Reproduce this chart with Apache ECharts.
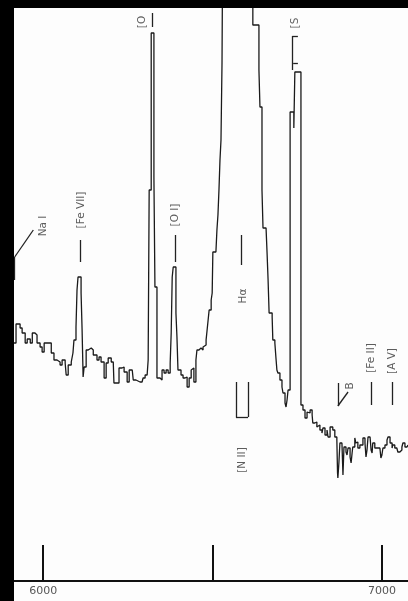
<!DOCTYPE html>
<html><head><meta charset="utf-8">
<script src="https://cdn.jsdelivr.net/npm/echarts@6/dist/echarts.min.js"></script>
<style>html,body{margin:0;padding:0;background:#fff}#c{width:408px;height:601px}</style>
</head><body><div id="c"></div>
<script>
// Wavelength (Å) at the start of each histogram bin and the flux (arbitrary units) held over it
const wavelength = [5914,5920,5932,5938,5947,5953,5962,5968,5976,5982,5991,5997,6003,6015,6024,6032,6041,6050,6056,6065,6068,6074,6083,6088,6091,6097,6100,6103,6112,6115,6118,6121,6127,6133,6142,6148,6159,6165,6171,6180,6186,6192,6201,6207,6209,6218,6224,6233,6239,6248,6254,6263,6266,6274,6286,6292,6295,6301,6307,6310,6313,6319,6327,6330,6336,6345,6351,6357,6363,6369,6375,6378,6381,6384,6392,6395,6398,6407,6413,6419,6425,6431,6437,6442,6445,6451,6454,6460,6466,6472,6475,6481,6484,6487,6490,6496,6499,6501,6510,6513,6516,6519,6522,6525,6528,6531,6619,6637,6640,6646,6649,6658,6661,6664,6667,6676,6678,6684,6687,6690,6693,6699,6705,6708,6714,6717,6720,6723,6729,6740,6743,6761,6767,6773,6779,6782,6788,6794,6796,6802,6808,6811,6817,6823,6826,6832,6838,6841,6847,6855,6861,6867,6869,6870,6873,6876,6882,6885,6888,6894,6897,6900,6906,6909,6912,6914,6920,6923,6926,6929,6935,6944,6950,6953,6956,6959,6965,6968,6971,6973,6979,6985,6988,6994,6997,7000,7003,7009,7015,7018,7024,7030,7032,7038,7044,7047,7053,7059,7062,7068,7074,7077];
const flux = [238,257,253,248,238,242,238,248,246,238,234,229,238,238,228,221,219,216,221,218,206,216,219,228,241,254,291,304,288,251,204,214,231,233,231,226,221,224,219,203,218,223,219,218,198,198,213,214,209,199,211,211,201,199,199,201,203,206,206,221,391,548,404,294,203,201,211,208,211,208,218,248,304,314,268,244,211,206,203,204,194,203,211,213,199,221,231,233,231,234,236,241,251,261,271,281,288,329,331,351,366,391,421,441,518,700,556,511,474,391,353,351,328,301,268,264,241,238,224,211,208,201,194,188,178,174,181,191,469,453,509,176,171,163,169,168,171,166,158,159,154,156,151,148,153,146,151,144,154,151,144,141,108,103,118,138,136,106,134,129,126,133,124,118,128,134,143,138,139,133,136,143,138,124,131,144,146,131,128,138,133,131,133,134,123,126,133,136,141,144,138,133,136,133,134,129,131,134,138,134,136,136];

// Axis ticks and labels (Å)
const tickValues = [6000, 6500, 7000];
const tickLabels = [6000, 7000];

// Line identifications: text, wavelength, flux level of the label centre
const lineNames = ['Na I', '[Fe VII]', '[O I]', '[O', 'H\u03b1', '[S', '[N II]', 'B', '[Fe II]', '[A V]'];
const lineNameWave = [5999, 6112, 6389, 6292, 6590, 6743, 6587, 6906, 6968, 7030];
const lineNameFlux = [355, 371, 366, 559, 285, 558, 121, 195, 223, 220];

// Identification leader strokes: [wave1, flux1, wave2, flux2]
const leaderStrokes = [
  [5916, 324, 5971, 351], [5916, 324, 5916, 301],
  [6109, 341, 6109, 319],
  [6389, 346, 6389, 319],
  [6322, 568, 6322, 554],
  [6584, 346, 6584, 316],
  [6735, 545, 6752, 545], [6735, 545, 6735, 511], [6738, 518, 6752, 518],
  [6569, 199, 6569, 164], [6569, 164, 6605, 164], [6605, 164, 6605, 199],
  [6870, 198, 6870, 175], [6870, 175, 6900, 189],
  [6968, 199, 6968, 176],
  [7030, 199, 7030, 176]
];

const spectrum = wavelength.map((w, i) => [w, flux[i]]);
const labelPts = lineNames.map((n, i) => ({ name: n, value: [lineNameWave[i], lineNameFlux[i]] }));
const leaderLines = leaderStrokes.map(s => [{ coord: [s[0], s[1]] }, { coord: [s[2], s[3]] }]);

const chart = echarts.init(document.getElementById('c'), null, { renderer: 'canvas' });
chart.setOption({
  backgroundColor: '#fdfdfd',
  animation: false,
  grid: { left: 14, right: 0, top: 8, bottom: 20 },
  xAxis: {
    type: 'value', min: 5914, max: 7077,
    splitLine: { show: false },
    axisLine: { show: true, onZero: false, lineStyle: { color: '#111', width: 2 } },
    axisTick: { show: true, inside: true, length: 36, customValues: tickValues, lineStyle: { color: '#111', width: 2 } },
    axisLabel: { show: true, customValues: tickLabels, margin: 5, color: '#555', fontSize: 11, fontFamily: 'DejaVu Sans', formatter: v => String(v) }
  },
  yAxis: { type: 'value', min: 0, max: 573, show: false },
  series: [
    {
      type: 'line', data: spectrum, step: 'end', showSymbol: false, symbol: 'none',
      lineStyle: { color: '#1a1a1a', width: 1.3 }, clip: true,
      markLine: {
        silent: true, symbol: ['none', 'none'], label: { show: false },
        lineStyle: { color: '#222', width: 1.3, type: 'solid' },
        data: leaderLines
      }
    },
    {
      type: 'scatter', data: labelPts, symbolSize: 0,
      label: { show: true, position: 'inside', rotate: 90, formatter: p => p.name, color: '#333', fontSize: 10.5, fontFamily: 'DejaVu Sans' }
    }
  ],
  graphic: [
    { type: 'rect', shape: { x: 0, y: 0, width: 14, height: 601 }, style: { fill: '#000' }, z: 100 },
    { type: 'rect', shape: { x: 0, y: 0, width: 408, height: 8 }, style: { fill: '#000' }, z: 100 }
  ]
});
</script></body></html>
